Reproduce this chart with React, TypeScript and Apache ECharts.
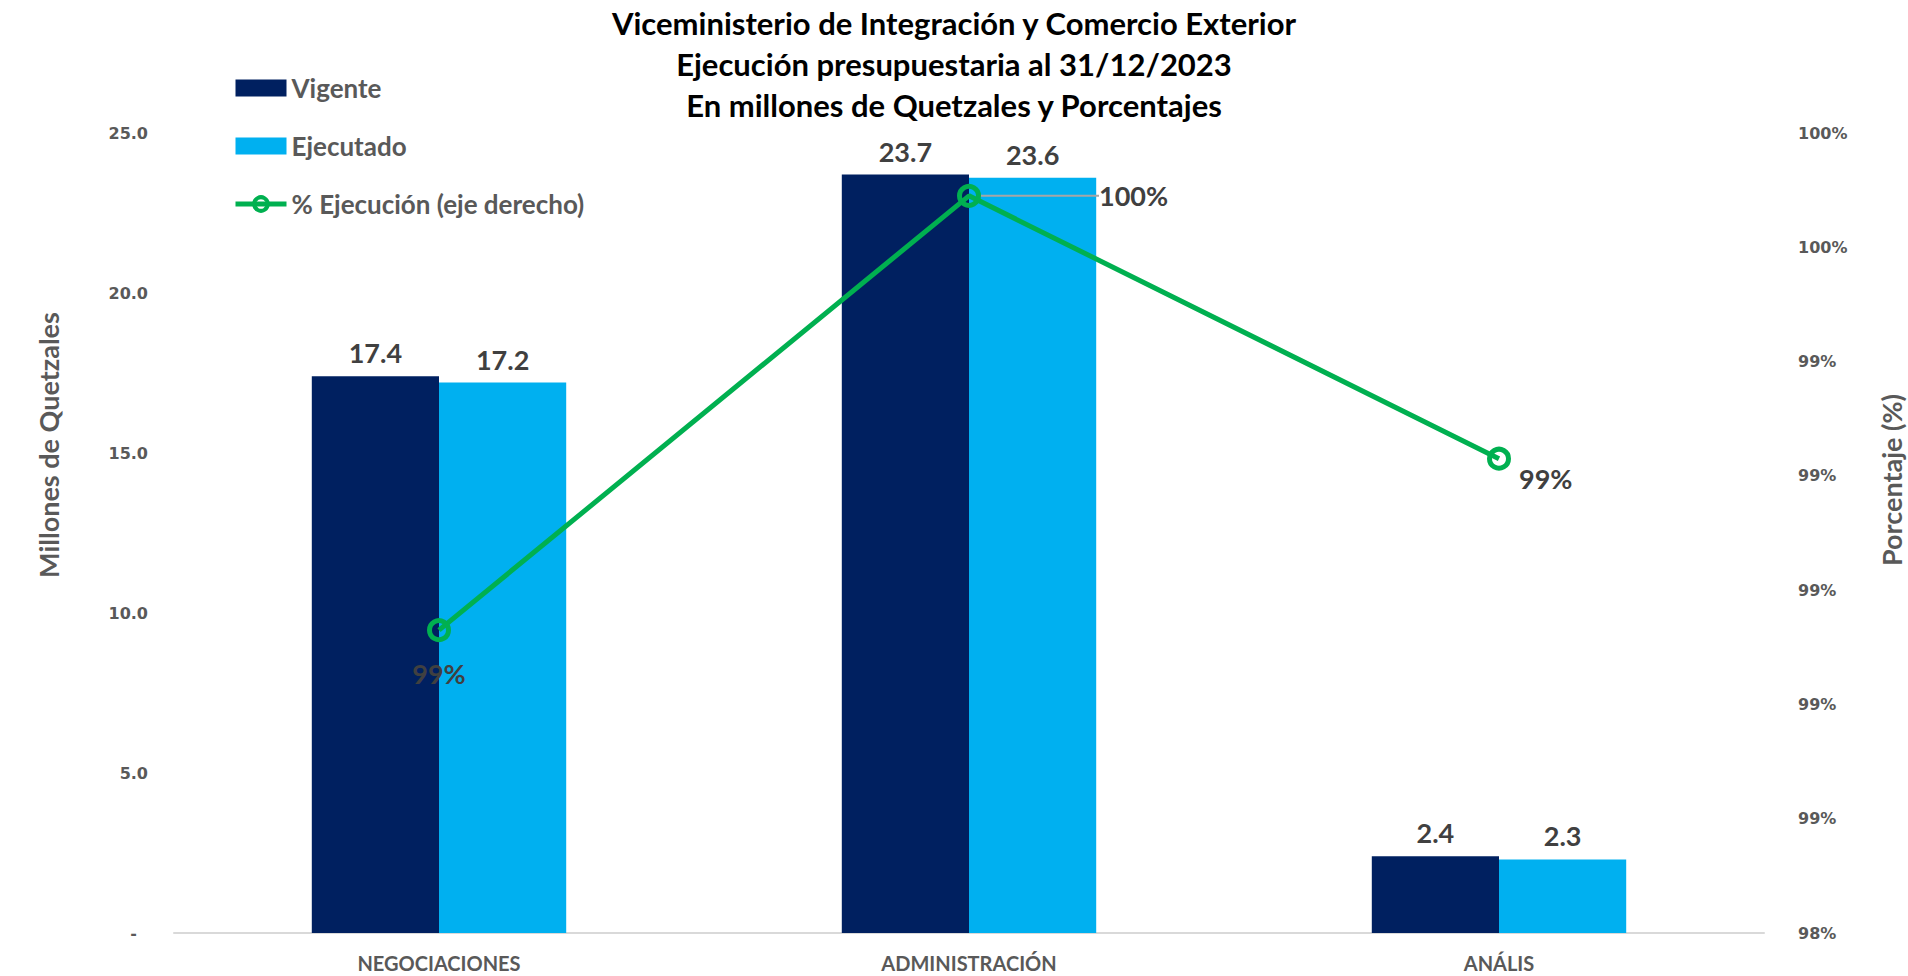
import React, { useEffect, useRef } from "react";
import * as echarts from "echarts";

const titleLines = [
  "Viceministerio de Integración y Comercio Exterior",
  "Ejecución presupuestaria al 31/12/2023",
  "En millones de Quetzales y Porcentajes",
];
const categories = ["NEGOCIACIONES", "ADMINISTRACIÓN", "ANÁLIS"];
const seriesNames = ["Vigente", "Ejecutado", "% Ejecución (eje derecho)"];
const vigente = [17.4, 23.7, 2.4];
const ejecutado = [17.2, 23.6, 2.3];
const pctEjecucion = [0.9893, 0.9969, 0.9923];
const leftAxisMin = 0;
const leftAxisMax = 25;
const leftAxisStep = 5;
const rightAxisMin = 0.984;
const rightAxisMax = 0.998;
const rightAxisStep = 0.002;
const leftAxisTitle = "Millones de Quetzales";
const rightAxisTitle = "Porcentaje (%)";

const CAL = "Lato, 'Open Sans', sans-serif";
const VER = "'DejaVu Sans', Verdana, sans-serif";

export default function App() {
  const ref = useRef<HTMLDivElement>(null);
  useEffect(() => {
    if (!ref.current) return;
    const chart = echarts.init(ref.current, null, { renderer: "svg" });
    const pctLabelStyles: any[] = [
      { position: "bottom", distance: 18 },
      { position: "right", distance: 8 },
      { position: "right", distance: 8 },
    ];
    const pctLabelShift: any[] = [{}, { dx: 110 }, { dy: 20 }];
    const option: any = {
      animation: false,
      backgroundColor: "#ffffff",
      title: {
        text: titleLines.join("\n"),
        left: "center",
        top: 2,
        padding: 0,
        textStyle: {
          fontFamily: CAL,
          fontWeight: "bold",
          fontSize: 31,
          lineHeight: 41,
          color: "#000000",
        },
      },
      legend: {
        orient: "vertical",
        left: 228,
        top: 68,
        itemWidth: 51,
        itemHeight: 17,
        itemGap: 28,
        data: [
          { name: seriesNames[0], icon: "rect" },
          { name: seriesNames[1], icon: "rect" },
          {
            name: seriesNames[2],
            lineStyle: { width: 5, color: "#00B050" },
            itemStyle: { borderWidth: 4, borderColor: "#00B050", color: "rgba(0,0,0,0)" },
          },
        ],
        textStyle: {
          fontFamily: CAL,
          fontWeight: "bold",
          fontSize: 26,
          lineHeight: 30,
          color: "#595959",
        },
      },
      grid: { left: 174, right: 144, top: 133, bottom: 43, containLabel: false },
      xAxis: {
        type: "category",
        data: categories,
        axisLine: { lineStyle: { color: "#d9d9d9", width: 2 } },
        axisTick: { show: false },
        axisLabel: {
          margin: 20,
          fontFamily: CAL,
          fontWeight: "bold",
          fontSize: 20,
          color: "#595959",
        },
      },
      yAxis: [
        {
          type: "value",
          min: leftAxisMin,
          max: leftAxisMax,
          interval: leftAxisStep,
          splitLine: { show: false },
          axisLine: { show: false },
          axisTick: { show: false },
          axisLabel: {
            margin: 26,
            fontFamily: VER,
            fontWeight: "bold",
            fontSize: 16,
            color: "#595959",
            formatter: (v: number) => (v === 0 ? "{d|-}" : v.toFixed(1)),
            rich: {
              d: {
                padding: [0, 11, 0, 0],
                fontFamily: VER,
                fontWeight: "bold",
                fontSize: 16,
                color: "#595959",
              },
            },
          },
        },
        {
          type: "value",
          position: "right",
          min: rightAxisMin,
          max: rightAxisMax,
          interval: rightAxisStep,
          splitLine: { show: false },
          axisLine: { show: false },
          axisTick: { show: false },
          axisLabel: {
            margin: 34,
            fontFamily: VER,
            fontWeight: "bold",
            fontSize: 16,
            color: "#595959",
            formatter: (v: number) => Math.round(v * 100) + "%",
          },
        },
      ],
      series: [
        {
          name: seriesNames[0],
          type: "bar",
          yAxisIndex: 0,
          data: vigente,
          barGap: "0%",
          barCategoryGap: "52%",
          itemStyle: { color: "#002060" },
          label: {
            show: true,
            position: "top",
            distance: 10,
            formatter: (p: any) => Number(p.value).toFixed(1),
            fontFamily: CAL,
            fontWeight: "bold",
            fontSize: 27,
            color: "#404040",
          },
        },
        {
          name: seriesNames[1],
          type: "bar",
          yAxisIndex: 0,
          data: ejecutado,
          barGap: "0%",
          barCategoryGap: "52%",
          itemStyle: { color: "#00B0F0" },
          label: {
            show: true,
            position: "top",
            distance: 10,
            formatter: (p: any) => Number(p.value).toFixed(1),
            fontFamily: CAL,
            fontWeight: "bold",
            fontSize: 27,
            color: "#404040",
          },
        },
        {
          name: seriesNames[2],
          type: "line",
          yAxisIndex: 1,
          data: pctEjecucion.map((v, i) => ({
            value: v,
            label: pctLabelStyles[i],
            labelLine: {
              show: i === 1,
              lineStyle: { color: "#a6a6a6", width: 2 },
            },
          })),
          symbol: "circle",
          symbolSize: 19,
          lineStyle: { color: "#00B050", width: 5 },
          itemStyle: {
            color: "rgba(0,0,0,0)",
            borderColor: "#00B050",
            borderWidth: 5,
          },
          label: {
            show: true,
            formatter: (p: any) => Math.round(p.value * 100) + "%",
            fontFamily: CAL,
            fontWeight: "bold",
            fontSize: 27,
            color: "#404040",
          },
          labelLayout: (params: any) => pctLabelShift[params.dataIndex] || {},
          z: 5,
        },
      ],
      graphic: [
        {
          type: "text",
          x: 48,
          y: 445,
          rotation: Math.PI / 2,
          style: {
            text: leftAxisTitle,
            fontFamily: CAL,
            fontWeight: "bold",
            fontSize: 27,
            fill: "#595959",
            align: "center",
            verticalAlign: "middle",
          },
        },
        {
          type: "text",
          x: 1891,
          y: 480,
          rotation: Math.PI / 2,
          style: {
            text: rightAxisTitle,
            fontFamily: CAL,
            fontWeight: "bold",
            fontSize: 27,
            fill: "#595959",
            align: "center",
            verticalAlign: "middle",
          },
        },
      ],
    };
    chart.setOption(option);
    return () => chart.dispose();
  }, []);
  return (
    <div
      ref={ref}
      style={{ position: "fixed", left: 0, top: 0, width: 1908, height: 976 }}
    />
  );
}
